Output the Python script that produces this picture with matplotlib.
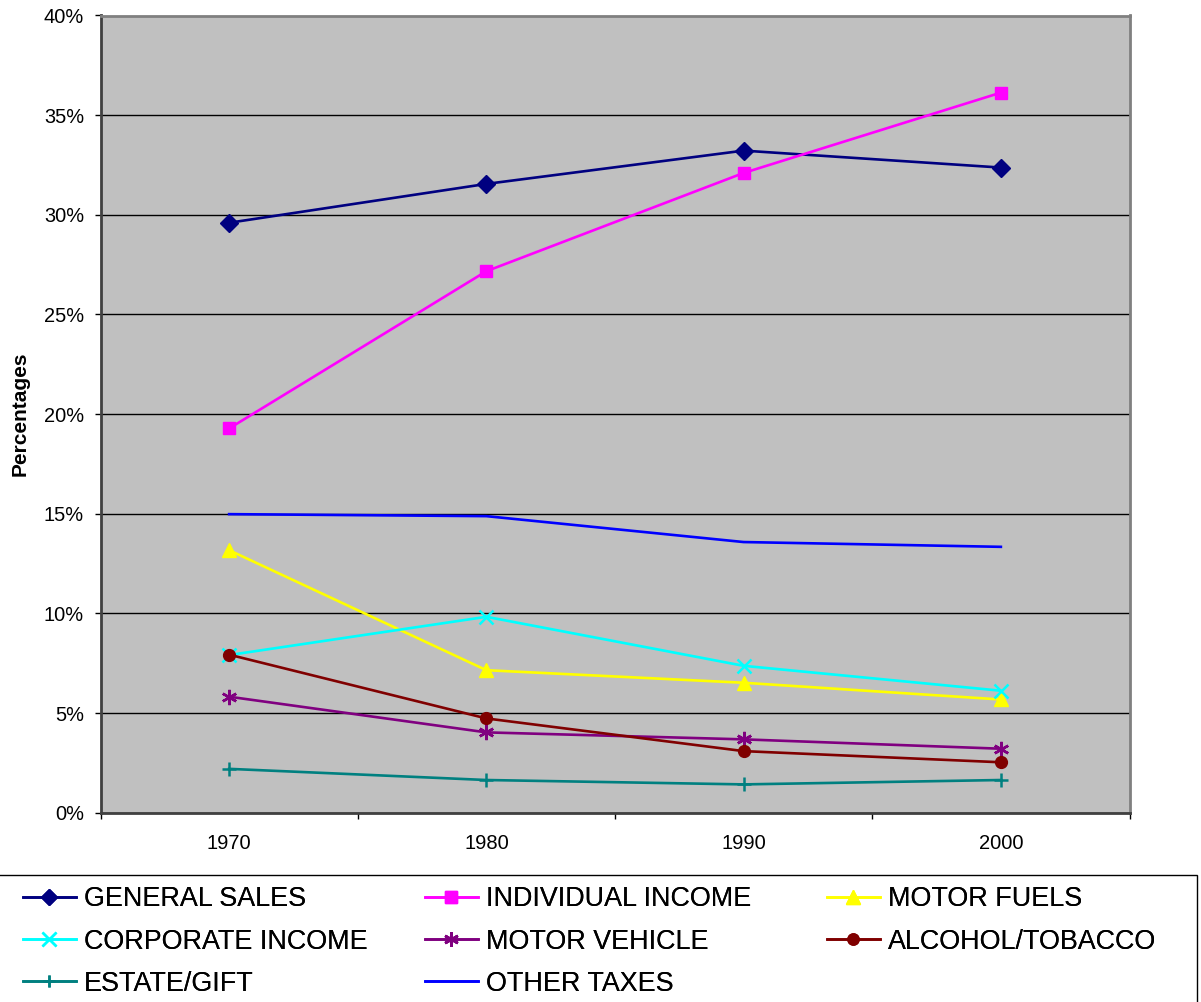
import matplotlib
matplotlib.use("Agg")
import matplotlib.pyplot as plt
from matplotlib.patches import Rectangle
from matplotlib.ticker import FuncFormatter, FixedLocator, NullFormatter

plt.rcParams['font.family'] = ['Liberation Sans', 'DejaVu Sans']

years = ['1970', '1980', '1990', '2000']
general_sales = [29.6, 31.55, 33.22, 32.37]
individual_income = [19.28, 27.17, 32.10, 36.13]
motor_fuels = [13.17, 7.15, 6.52, 5.68]
corporate_income = [7.91, 9.83, 7.37, 6.12]
motor_vehicle = [5.82, 4.03, 3.68, 3.21]
alcohol_tobacco = [7.93, 4.73, 3.09, 2.53]
estate_gift = [2.2, 1.64, 1.42, 1.64]
other_taxes = [14.98, 14.88, 13.58, 13.34]

series = [
    ('GENERAL SALES', general_sales, '#000080', 'D', 9),
    ('INDIVIDUAL INCOME', individual_income, '#FF00FF', 's', 8.5),
    ('MOTOR FUELS', motor_fuels, '#FFFF00', '^', 10.5),
    ('CORPORATE INCOME', corporate_income, '#00FFFF', 'x', 10),
    ('MOTOR VEHICLE', motor_vehicle, '#800080', (6, 2, 0), 11),
    ('ALCOHOL/TOBACCO', alcohol_tobacco, '#800000', 'o', 8.5),
    ('ESTATE/GIFT', estate_gift, '#008080', '+', 9.5),
    ('OTHER TAXES', other_taxes, '#0000FF', 'None', 0),
]

W, H = 1201, 1002
fig = plt.figure(figsize=(W / 100, H / 100), dpi=100)
ax = fig.add_axes([100.5 / W, 1 - 812.7 / H, (1129.5 - 100.5) / W, (812.7 - 15.5) / H])
ax.set_facecolor('#C0C0C0')

x = list(range(len(years)))
handles = {}
for name, vals, col, mk, ms in series:
    mew = 1.8 if mk in ('x', '+', (6, 2, 0)) else 1
    ln, = ax.plot(x, vals, color=col, lw=1.9, marker=mk, markersize=ms,
                  markerfacecolor=col, markeredgecolor=col, markeredgewidth=mew,
                  label=name, zorder=3)
    handles[name] = ln

ax.set_xlim(-0.5, len(years) - 0.5)
ax.set_ylim(0, 40)
ax.set_yticks(range(0, 41, 5))
ax.yaxis.set_major_formatter(FuncFormatter(lambda v, p: f'{int(v)}%'))
ax.xaxis.set_major_locator(FixedLocator([i - 0.5 for i in range(len(years) + 1)]))
ax.xaxis.set_major_formatter(NullFormatter())
ax.xaxis.set_minor_locator(FixedLocator(x))
ax.xaxis.set_minor_formatter(FuncFormatter(lambda v, p: years[int(round(v))]))
ax.tick_params(axis='x', which='minor', length=0, labelsize=14.5, pad=15)
ax.tick_params(axis='x', which='major', length=4.3, width=1, color='black', direction='out')
ax.tick_params(axis='y', length=4.3, width=1, color='black', direction='out', labelsize=14.4, pad=7.5)
ax.grid(axis='y', color='black', lw=1)
ax.set_axisbelow(True)
for s in ('top', 'right'):
    ax.spines[s].set_color('#808080')
    ax.spines[s].set_linewidth(2)
for s in ('left', 'bottom'):
    ax.spines[s].set_color('#404040')
    ax.spines[s].set_linewidth(2)

ax.set_ylabel('Percentages', fontsize=15, fontweight='bold', labelpad=10)

# legend frame
fig.add_artist(Rectangle((-5 / W, -0.05), (1197 + 5) / W, 0.05 + 1 - 875.5 / H,
                         transform=fig.transFigure, fill=False, edgecolor='black', lw=1))

cols = [
    (['GENERAL SALES', 'CORPORATE INCOME', 'ESTATE/GIFT'], 23),
    (['INDIVIDUAL INCOME', 'MOTOR VEHICLE', 'OTHER TAXES'], 425),
    (['MOTOR FUELS', 'ALCOHOL/TOBACCO'], 827),
]
for names, xpx in cols:
    leg = fig.legend([handles[n] for n in names], names, loc='upper left',
                     bbox_to_anchor=(xpx / W, 1 - 886.5 / H), frameon=False,
                     fontsize=19.4, handlelength=1.95, handletextpad=0.3,
                     borderpad=0, borderaxespad=0, labelspacing=0.6,
                     markerscale=0.95)
    fig.add_artist(leg)

fig.savefig('out.png', dpi=100, facecolor='white')
